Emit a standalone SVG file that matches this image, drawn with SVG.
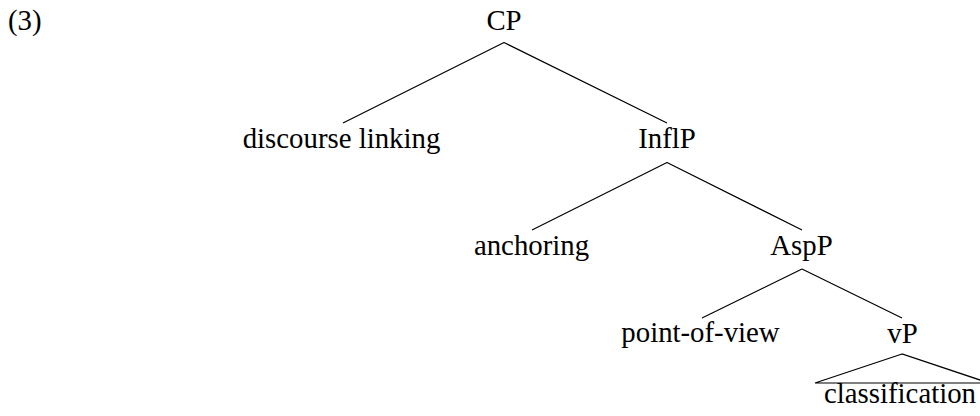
<svg xmlns="http://www.w3.org/2000/svg" width="980" height="416" viewBox="0 0 980 416">
  <style>
    .lbl { font-family: "Liberation Serif", "Times New Roman", serif; font-size: 28.8px; fill: #000; text-anchor: middle; }
    .num { font-family: "Liberation Serif", "Times New Roman", serif; font-size: 28.8px; fill: #000; }
    .edge { stroke: #000; stroke-width: 1.2; fill: none; }
  </style>
  <rect width="980" height="416" fill="#fff"/>
  <text class="num" x="8" y="30">(3)</text>

  <!-- branches of the tree -->
  <g id="connectors">
    <path class="edge" d="M504,42.5 L343,123 M504,42.5 L667,123"/>
    <path class="edge" d="M667,162.5 L532,230 M667,162.5 L802,230"/>
    <path class="edge" d="M802,269 L702,318 M802,269 L902,318"/>
    <path class="edge" d="M902,354 L815,383 L989,383 Z"/>
  </g>

  <g id="cp"><text class="lbl" x="504" y="30">CP</text></g>
  <g id="discourse-linking"><text class="lbl" x="341.5" y="148">discourse linking</text></g>
  <g id="inflp"><text class="lbl" x="667" y="148">InflP</text></g>
  <g id="anchoring"><text class="lbl" x="531.5" y="255">anchoring</text></g>
  <g id="aspp"><text class="lbl" x="801.5" y="255">AspP</text></g>
  <g id="point-of-view"><text class="lbl" x="700.5" y="342">point-of-view</text></g>
  <g id="vp"><text class="lbl" x="902.5" y="343">vP</text></g>
  <g id="classification"><text class="lbl" x="900" y="403">classification</text></g>
</svg>
